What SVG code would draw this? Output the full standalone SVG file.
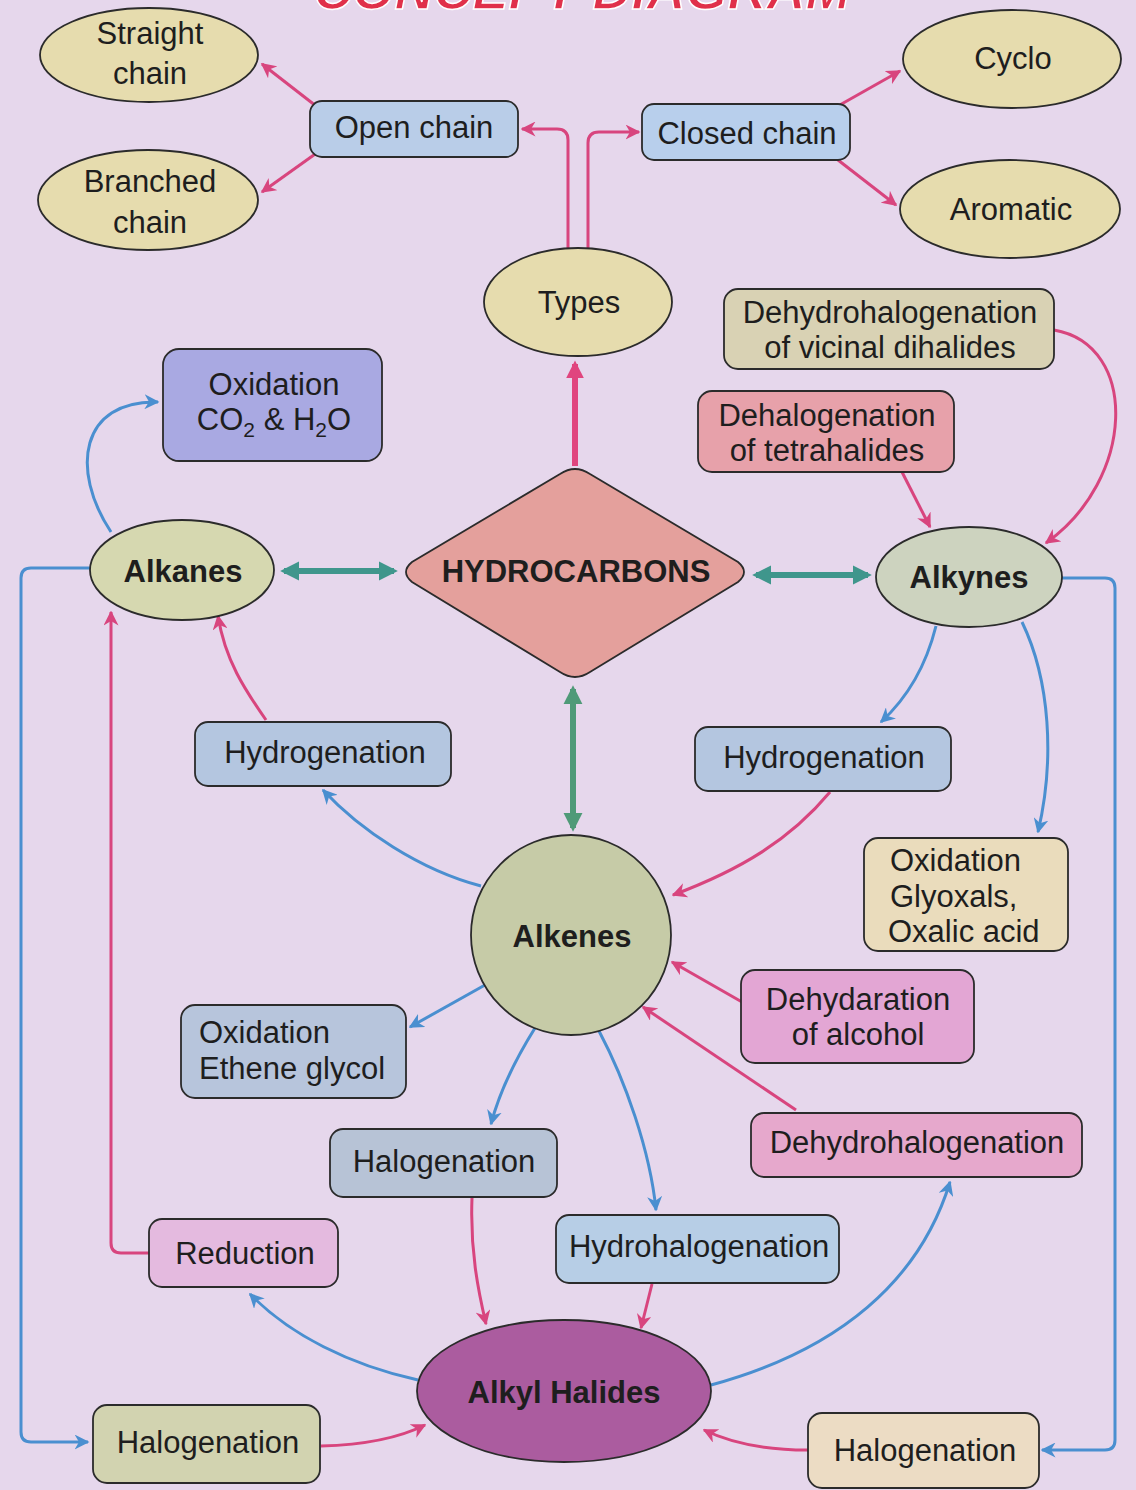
<svg xmlns="http://www.w3.org/2000/svg" width="1136" height="1490" viewBox="0 0 1136 1490">
<defs>
<marker id="ap" viewBox="0 0 10 10" refX="9" refY="5" markerWidth="5" markerHeight="5" orient="auto-start-reverse" markerUnits="strokeWidth"><path d="M0,0 L10,5 L0,10 L3,5 z" fill="#d8457e"/></marker>
<marker id="ab" viewBox="0 0 10 10" refX="9" refY="5" markerWidth="5" markerHeight="5" orient="auto-start-reverse" markerUnits="strokeWidth"><path d="M0,0 L10,5 L0,10 L3,5 z" fill="#4a8fd0"/></marker>
<marker id="at" viewBox="0 0 10 10" refX="8" refY="5" markerWidth="3.2" markerHeight="3.2" orient="auto-start-reverse" markerUnits="strokeWidth"><path d="M0,0 L10,5 L0,10 z" fill="#3f968c"/></marker>
<marker id="ag" viewBox="0 0 10 10" refX="8" refY="5" markerWidth="3.2" markerHeight="3.2" orient="auto-start-reverse" markerUnits="strokeWidth"><path d="M0,0 L10,5 L0,10 z" fill="#4f9a78"/></marker>
<marker id="apk" viewBox="0 0 10 10" refX="8" refY="5" markerWidth="3" markerHeight="3" orient="auto-start-reverse" markerUnits="strokeWidth"><path d="M0,0 L10,5 L0,10 z" fill="#e0457e"/></marker>
</defs>
<style>
text{font-family:"Liberation Sans",Arial,sans-serif;font-size:31px;fill:#1e1e1e;text-anchor:middle}
.b{font-weight:bold}
.l{text-anchor:start}
.n{stroke:#2b2b2b;stroke-width:1.8}
.p{fill:none;stroke:#d8457e;stroke-width:3;marker-end:url(#ap)}
.u{fill:none;stroke:#4a8fd0;stroke-width:3;marker-end:url(#ab)}
</style>
<rect width="1136" height="1490" fill="#e6d7ec"/>
<text x="582" y="9" style="font-size:54px;font-weight:bold;font-style:italic;fill:#e0304a;stroke:#fff;stroke-width:1.5">CONCEPT DIAGRAM</text>

<g id="connectors">
<path class="p" d="M316,106 L262,64"/>
<path class="p" d="M318,152 L262,192"/>
<path class="p" d="M568,248 V140 Q568,129 557,129 H522"/>
<path class="p" d="M588,248 V143 Q588,132 599,132 H639"/>
<path class="p" d="M838,106 L900,71"/>
<path class="p" d="M838,160 L896,205"/>
<path d="M575,466 V364" fill="none" stroke="#e0457e" stroke-width="6" marker-end="url(#apk)"/>
<path class="p" d="M902,472 L930,527"/>
<path class="p" d="M1054,330 C1140,345 1135,480 1046,543"/>
<path class="p" d="M266,720 C245,690 225,660 218,616"/>
<path class="p" d="M149,1253 H121 Q111,1253 111,1243 V612"/>
<path class="p" d="M830,792 C790,840 740,870 673,895"/>
<path class="p" d="M742,1002 L672,962"/>
<path class="p" d="M796,1110 L643,1007"/>
<path class="p" d="M472,1198 C470,1250 478,1290 486,1324"/>
<path class="p" d="M652,1284 L641,1328"/>
<path class="p" d="M321,1446 C360,1445 395,1440 425,1425"/>
<path class="p" d="M808,1450 C770,1450 735,1445 704,1430"/>

<path class="u" d="M111,532 C70,470 80,400 158,402"/>
<path class="u" d="M90,568 H31 Q21,568 21,578 V1432 Q21,1442 31,1442 H88"/>
<path class="u" d="M1062,578 H1105 Q1115,578 1115,588 V1440 Q1115,1450 1105,1450 H1042"/>
<path class="u" d="M936,626 C925,670 905,700 881,722"/>
<path class="u" d="M1022,622 C1050,680 1055,760 1038,832"/>
<path class="u" d="M481,886 C420,870 360,830 323,790"/>
<path class="u" d="M485,985 L410,1027"/>
<path class="u" d="M535,1028 C515,1060 500,1090 491,1124"/>
<path class="u" d="M599,1031 C625,1080 650,1150 656,1210"/>
<path class="u" d="M418,1380 C350,1365 290,1335 250,1294"/>
<path class="u" d="M711,1385 C840,1350 920,1280 950,1182"/>

<path d="M284,571 H394" fill="none" stroke="#3f968c" stroke-width="6" marker-start="url(#at)" marker-end="url(#at)"/>
<path d="M756,575 H868" fill="none" stroke="#3f968c" stroke-width="6" marker-start="url(#at)" marker-end="url(#at)"/>
<path d="M573,689 V828" fill="none" stroke="#4f9a78" stroke-width="6" marker-start="url(#ag)" marker-end="url(#ag)"/>
</g>

<g id="straight-chain"><ellipse class="n" cx="149" cy="55" rx="109" ry="47" fill="#e6dcae"/><text x="150" y="44">Straight</text><text x="150" y="84">chain</text></g>
<g id="branched-chain"><ellipse class="n" cx="148" cy="200" rx="110" ry="50" fill="#e6dcae"/><text x="150" y="192">Branched</text><text x="150" y="233">chain</text></g>
<g id="open-chain"><rect class="n" x="310" y="101" width="208" height="56" rx="12" fill="#b9cde8"/><text x="414" y="138">Open chain</text></g>
<g id="closed-chain"><rect class="n" x="642" y="104" width="208" height="56" rx="12" fill="#b8cfec"/><text x="747" y="144">Closed chain</text></g>
<g id="cyclo"><ellipse class="n" cx="1012" cy="59" rx="109" ry="49" fill="#e6dcae"/><text x="1013" y="69">Cyclo</text></g>
<g id="aromatic"><ellipse class="n" cx="1010" cy="209" rx="110" ry="49" fill="#e6dcae"/><text x="1011" y="220">Aromatic</text></g>
<g id="types"><ellipse class="n" cx="578" cy="302" rx="94" ry="54" fill="#e6dcae"/><text x="579" y="313">Types</text></g>
<g id="dehydrohalogenation-vicinal"><rect class="n" x="724" y="289" width="330" height="80" rx="14" fill="#d9d2b4"/><text x="890" y="323">Dehydrohalogenation</text><text x="890" y="358">of vicinal dihalides</text></g>
<g id="dehalogenation"><rect class="n" x="698" y="391" width="256" height="81" rx="14" fill="#e7a1aa"/><text x="827" y="426">Dehalogenation</text><text x="827" y="461">of tetrahalides</text></g>
<g id="oxidation-co2"><rect class="n" x="163" y="349" width="219" height="112" rx="16" fill="#a9a9e2"/><text x="274" y="395">Oxidation</text><text x="274" y="430">CO<tspan font-size="21" dy="7">2</tspan><tspan dy="-7"> &amp; H</tspan><tspan font-size="21" dy="7">2</tspan><tspan dy="-7">O</tspan></text></g>
<g id="hydrocarbons"><path class="n" d="M560,474 Q575,464 590,474 L738,562 Q750,572 738,582 L590,672 Q575,682 560,672 L412,582 Q400,572 412,562 Z" fill="#e4a09c"/><text class="b" x="576" y="582">HYDROCARBONS</text></g>
<g id="alkanes"><ellipse class="n" cx="182" cy="570" rx="92" ry="50" fill="#d6d8b0"/><text class="b" x="183" y="582">Alkanes</text></g>
<g id="alkynes"><ellipse class="n" cx="969" cy="577" rx="93" ry="50" fill="#cdd3bf"/><text class="b" x="969" y="588">Alkynes</text></g>
<g id="hydrogenation-left"><rect class="n" x="195" y="722" width="256" height="64" rx="13" fill="#b4c6e0"/><text x="325" y="763">Hydrogenation</text></g>
<g id="hydrogenation-right"><rect class="n" x="695" y="727" width="256" height="64" rx="13" fill="#b4c6e0"/><text x="824" y="768">Hydrogenation</text></g>
<g id="oxidation-glyoxals"><rect class="n" x="864" y="838" width="204" height="113" rx="14" fill="#eadcbc"/><text class="l" x="890" y="871">Oxidation</text><text class="l" x="890" y="907">Glyoxals,</text><text class="l" x="888" y="942">Oxalic acid</text></g>
<g id="alkenes"><circle class="n" cx="571" cy="935" r="100" fill="#c6cba7"/><text class="b" x="572" y="947">Alkenes</text></g>
<g id="dehydaration"><rect class="n" x="741" y="970" width="233" height="93" rx="14" fill="#e3a6d4"/><text x="858" y="1010">Dehydaration</text><text x="858" y="1045">of alcohol</text></g>
<g id="oxidation-ethene"><rect class="n" x="181" y="1005" width="225" height="93" rx="14" fill="#b7c5dc"/><text class="l" x="199" y="1043">Oxidation</text><text class="l" x="199" y="1079">Ethene glycol</text></g>
<g id="halogenation-mid"><rect class="n" x="330" y="1129" width="227" height="68" rx="13" fill="#b7c3d6"/><text x="444" y="1172">Halogenation</text></g>
<g id="dehydrohalogenation"><rect class="n" x="751" y="1113" width="331" height="64" rx="13" fill="#e6a8cc"/><text x="917" y="1153">Dehydrohalogenation</text></g>
<g id="reduction"><rect class="n" x="149" y="1219" width="189" height="68" rx="13" fill="#e4badf"/><text x="245" y="1264">Reduction</text></g>
<g id="hydrohalogenation"><rect class="n" x="556" y="1215" width="283" height="68" rx="13" fill="#b7cee6"/><text x="699" y="1257">Hydrohalogenation</text></g>
<g id="alkyl-halides"><ellipse class="n" cx="564" cy="1391" rx="147" ry="71" fill="#ab5c9f"/><text class="b" x="564" y="1403">Alkyl Halides</text></g>
<g id="halogenation-bl"><rect class="n" x="93" y="1405" width="227" height="78" rx="14" fill="#d2d3b0"/><text x="208" y="1453">Halogenation</text></g>
<g id="halogenation-br"><rect class="n" x="808" y="1413" width="231" height="75" rx="14" fill="#ecdcc4"/><text x="925" y="1461">Halogenation</text></g>
</svg>
